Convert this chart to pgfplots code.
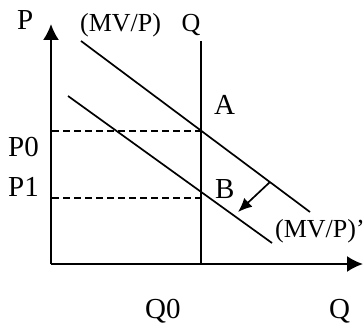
\documentclass[border=0pt]{standalone}
\usepackage{fontspec}
\setmainfont{Liberation Serif}
\usepackage{pgfplots}
\pgfplotsset{compat=1.18}
\usetikzlibrary{arrows.meta}

\begin{document}
\begin{tikzpicture}[
  lbl/.style={anchor=base west, inner sep=0pt, font=\fontsize{29bp}{34bp}\selectfont},
  sml/.style={anchor=base west, inner sep=0pt, font=\fontsize{26bp}{30bp}\selectfont}]
\begin{axis}[
  scale only axis,
  width=364bp, height=331bp,
  xmin=0, xmax=364, ymin=0, ymax=331,
  y dir=reverse,
  hide axis,
  clip=false,
]
% axes
\addplot[black, line width=2bp, -{Latex[length=16bp,width=16bp]}] coordinates {(51,264) (51,24)};
\addplot[black, line width=2bp, -{Latex[length=16bp,width=16bp]}] coordinates {(51,264) (363,264)};
% vertical Q
\addplot[black, line width=1.7bp] coordinates {(201,41) (201,264)};
% demand curves
\addplot[black, line width=1.7bp] coordinates {(81,41) (310,212)};
\addplot[black, line width=1.7bp] coordinates {(68,96) (272,243)};
% dashed levels
\addplot[black, line width=1.6bp, dash pattern=on 7bp off 4bp] coordinates {(52,131) (201,131)};
\addplot[black, line width=1.6bp, dash pattern=on 7bp off 4bp] coordinates {(52,198) (201,198)};
% shift arrow
\addplot[black, line width=1.7bp, -{Latex[length=14bp,width=12bp]}] coordinates {(270,182) (238,212)};
% labels
\node[lbl] at (axis cs:17,30) {P};
\node[sml] at (axis cs:80,32) {(MV/P)};
\node[sml, anchor=base] at (axis cs:191,32) {Q};
\node[lbl] at (axis cs:214,114) {A};
\node[lbl] at (axis cs:8,156) {P0};
\node[lbl] at (axis cs:8,196) {P1};
\node[lbl] at (axis cs:215,198) {B};
\node[sml] at (axis cs:275,237) {(MV/P)'};
\node[lbl] at (axis cs:145,318) {Q0};
\node[lbl] at (axis cs:329,318) {Q};
\end{axis}
\pgfresetboundingbox
\path (0,0) rectangle (364bp,331bp);
\end{tikzpicture}
\end{document}
